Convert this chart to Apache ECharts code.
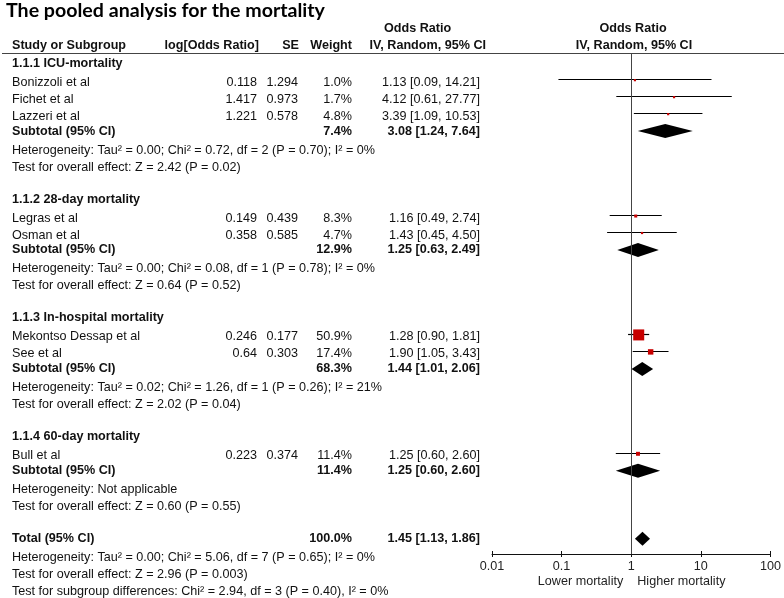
<!DOCTYPE html>
<html>
<head>
<meta charset="utf-8">
<script src="https://cdn.jsdelivr.net/npm/echarts@6/dist/echarts.min.js"></script>
<style>
html,body{margin:0;padding:0;background:#fff;}
#chart{width:784px;height:598px;}
</style>
</head>
<body>
<div id="chart"></div>
<script>
// ---------------- data ----------------
const title = 'The pooled analysis for the mortality';
const groups = ['1.1.1 ICU-mortality', '1.1.2 28-day mortality', '1.1.3 In-hospital mortality', '1.1.4 60-day mortality'];
const studies = ['Bonizzoli et al', 'Fichet et al', 'Lazzeri et al', 'Legras et al', 'Osman et al', 'Mekontso Dessap et al', 'See et al', 'Bull et al'];
const studyGroup = [0, 0, 0, 1, 1, 2, 2, 3];
const logOR = ['0.118', '1.417', '1.221', '0.149', '0.358', '0.246', '0.64', '0.223'];
const seVals = ['1.294', '0.973', '0.578', '0.439', '0.585', '0.177', '0.303', '0.374'];
const weights = [1.0, 1.7, 4.8, 8.3, 4.7, 50.9, 17.4, 11.4];
const orVals = [1.13, 4.12, 3.39, 1.16, 1.43, 1.28, 1.90, 1.25];
const loVals = [0.09, 0.61, 1.09, 0.49, 0.45, 0.90, 1.05, 0.60];
const hiVals = [14.21, 27.77, 10.53, 2.74, 4.50, 1.81, 3.43, 2.60];
const subWeight = [7.4, 12.9, 68.3, 11.4];
const subOR = [3.08, 1.25, 1.44, 1.25];
const subLo = [1.24, 0.63, 1.01, 0.60];
const subHi = [7.64, 2.49, 2.06, 2.60];
const subHet = [
  'Heterogeneity: Tau\u00b2 = 0.00; Chi\u00b2 = 0.72, df = 2 (P = 0.70); I\u00b2 = 0%',
  'Heterogeneity: Tau\u00b2 = 0.00; Chi\u00b2 = 0.08, df = 1 (P = 0.78); I\u00b2 = 0%',
  'Heterogeneity: Tau\u00b2 = 0.02; Chi\u00b2 = 1.26, df = 1 (P = 0.26); I\u00b2 = 21%',
  'Heterogeneity: Not applicable'
];
const subTest = [
  'Test for overall effect: Z = 2.42 (P = 0.02)',
  'Test for overall effect: Z = 0.64 (P = 0.52)',
  'Test for overall effect: Z = 2.02 (P = 0.04)',
  'Test for overall effect: Z = 0.60 (P = 0.55)'
];
const totalWeight = 100.0;
const totalOR = 1.45, totalLo = 1.13, totalHi = 1.86;
const totalNotes = [
  'Heterogeneity: Tau\u00b2 = 0.00; Chi\u00b2 = 5.06, df = 7 (P = 0.65); I\u00b2 = 0%',
  'Test for overall effect: Z = 2.96 (P = 0.003)',
  'Test for subgroup differences: Chi\u00b2 = 2.94, df = 3 (P = 0.40), I\u00b2 = 0%'
];
const xTicks = [0.01, 0.1, 1, 10, 100];
const favourLeft = 'Lower mortality';
const favourRight = 'Higher mortality';

// ---------------- row layout ----------------
const rows = [];
let r = 0;
groups.forEach((g, gi) => {
  rows.push({ row: r++, type: 'group', name: g });
  studies.forEach((s, si) => {
    if (studyGroup[si] === gi) rows.push({ row: r++, type: 'study', idx: si });
  });
  rows.push({ row: r++, type: 'sub', idx: gi });
  rows.push({ row: r++, type: 'note', name: subHet[gi] });
  rows.push({ row: r++, type: 'note', name: subTest[gi] });
  r++; // blank
});
rows.push({ row: r++, type: 'total' });
totalNotes.forEach(t => rows.push({ row: r++, type: 'note', name: t }));

const ciText = (o, l, h) => o.toFixed(2) + ' [' + l.toFixed(2) + ', ' + h.toFixed(2) + ']';

const studyData = rows.filter(x => x.type === 'study').map(x => [loVals[x.idx], hiVals[x.idx], orVals[x.idx], x.row, weights[x.idx]]);
const diamondData = rows.filter(x => x.type === 'sub').map(x => [subLo[x.idx], subOR[x.idx], subHi[x.idx], x.row]);
rows.filter(x => x.type === 'total').forEach(x => diamondData.push([totalLo, totalOR, totalHi, x.row]));

// ---------------- chart ----------------
const FONT = '"Liberation Sans", Arial, sans-serif';
const FS = 12.6;
const chart = echarts.init(document.getElementById('chart'), null, { renderer: 'canvas' });

const option = {
  animation: false,
  backgroundColor: '#fff',
  grid: { left: 492, right: 12, top: 53, bottom: 44 },
  xAxis: [{
    type: 'log', logBase: 10, min: 0.01, max: 100, position: 'bottom',
    axisLine: { show: true, onZero: false, lineStyle: { color: '#111', width: 1 } },
    axisTick: { show: true, inside: false, length: 3, lineStyle: { color: '#111' } },
    axisLabel: { show: true, margin: 6, color: '#222', fontFamily: FONT, fontSize: FS,
      formatter: v => { const m = xTicks.find(t => Math.abs(Math.log10(t) - Math.log10(v)) < 1e-6); return m !== undefined ? String(m) : ''; } },
    splitLine: { show: false }
  }, {
    type: 'log', logBase: 10, min: 0.01, max: 100, position: 'bottom',
    axisLine: { show: false, onZero: false },
    axisTick: { show: true, inside: true, length: 3, lineStyle: { color: '#111' } },
    axisLabel: { show: false },
    splitLine: { show: false }
  }],
  yAxis: {
    type: 'value', inverse: true, min: -0.6, max: 28.9,
    show: false, splitLine: { show: false }
  },
  series: [{
    type: 'custom',
    name: 'studies',
    clip: false,
    data: studyData,
    renderItem: (params, api) => {
      const p1 = api.coord([api.value(0), api.value(3)]);
      const p2 = api.coord([api.value(1), api.value(3)]);
      const pc = api.coord([api.value(2), api.value(3)]);
      const w = api.value(4);
      const side = Math.max(2.2, 1.88 * Math.sqrt(w) - 2.4);
      const ly = Math.round(p1[1]) - 0.5;
      return {
        type: 'group',
        children: [{
          type: 'line',
          shape: { x1: p1[0], y1: ly, x2: p2[0], y2: ly },
          style: { stroke: '#000', lineWidth: 1.2 }
        }, {
          type: 'rect',
          shape: { x: pc[0] - side / 2, y: pc[1] - side / 2, width: side, height: side },
          style: { fill: '#c80000' }
        }]
      };
    },
    markLine: {
      silent: true, symbol: 'none', label: { show: false },
      lineStyle: { color: '#444', width: 1, type: 'solid' },
      data: [{ xAxis: 1 }]
    }
  }, {
    type: 'custom',
    name: 'diamonds',
    clip: false,
    data: diamondData,
    renderItem: (params, api) => {
      const pl = api.coord([api.value(0), api.value(3)]);
      const pc = api.coord([api.value(1), api.value(3)]);
      const ph = api.coord([api.value(2), api.value(3)]);
      const h = 7;
      return {
        type: 'polygon',
        shape: { points: [[pl[0], pl[1]], [pc[0], pc[1] - h], [ph[0], ph[1]], [pc[0], pc[1] + h]] },
        style: { fill: '#000' }
      };
    }
  }]
};
chart.setOption(option);

// ---------------- table text ----------------
const yPix = v => chart.convertToPixel({ yAxisIndex: 0 }, v);
const xPix = v => chart.convertToPixel({ xAxisIndex: 0 }, v);
const g = [];
function txt(x, y, s, opts) {
  opts = opts || {};
  g.push({
    type: 'text', x: x, y: y, silent: true,
    style: {
      text: s, fill: opts.color || '#111',
      font: (opts.bold ? 'bold ' : '') + (opts.size || FS) + 'px ' + (opts.family || FONT),
      textAlign: opts.align || 'left', textVerticalAlign: 'middle'
    }
  });
}
const COL = { name: 12, log: 257, se: 298, wt: 352, ci: 480 };

// title
txt(6, 11, title, { bold: true, size: 19.6, family: 'Lato, sans-serif', color: '#000' });
// headers
txt(384, 29, 'Odds Ratio', { bold: true });
txt(12, 46, 'Study or Subgroup', { bold: true });
txt(259, 46, 'log[Odds Ratio]', { bold: true, align: 'right' });
txt(299, 46, 'SE', { bold: true, align: 'right' });
txt(352, 46, 'Weight', { bold: true, align: 'right' });
txt(486, 46, 'IV, Random, 95% CI', { bold: true, align: 'right' });
txt(633, 29, 'Odds Ratio', { bold: true, align: 'center' });
txt(634, 46, 'IV, Random, 95% CI', { bold: true, align: 'center' });
g.push({ type: 'line', silent: true, shape: { x1: 2, y1: 53.5, x2: 784, y2: 53.5 }, style: { stroke: '#444', lineWidth: 1 } });

rows.forEach(rw => {
  const y = yPix(rw.row);
  if (rw.type === 'group') {
    txt(COL.name, y, rw.name, { bold: true });
  } else if (rw.type === 'study') {
    const i = rw.idx, yy = y + 2;
    txt(COL.name, yy, studies[i]);
    txt(COL.log, yy, logOR[i], { align: 'right' });
    txt(COL.se, yy, seVals[i], { align: 'right' });
    txt(COL.wt, yy, weights[i].toFixed(1) + '%', { align: 'right' });
    txt(COL.ci, yy, ciText(orVals[i], loVals[i], hiVals[i]), { align: 'right' });
  } else if (rw.type === 'sub') {
    const i = rw.idx;
    txt(COL.name, y, 'Subtotal (95% CI)', { bold: true });
    txt(COL.wt, y, subWeight[i].toFixed(1) + '%', { bold: true, align: 'right' });
    txt(COL.ci, y, ciText(subOR[i], subLo[i], subHi[i]), { bold: true, align: 'right' });
  } else if (rw.type === 'total') {
    txt(COL.name, y, 'Total (95% CI)', { bold: true });
    txt(COL.wt, y, totalWeight.toFixed(1) + '%', { bold: true, align: 'right' });
    txt(COL.ci, y, ciText(totalOR, totalLo, totalHi), { bold: true, align: 'right' });
  } else if (rw.type === 'note') {
    txt(COL.name, y + 2, rw.name);
  }
});
const x1 = xPix(1);
txt(x1 - 8, 581.5, favourLeft, { align: 'right', color: '#222' });
txt(x1 + 6, 581.5, favourRight, { align: 'left', color: '#222' });

chart.setOption({ graphic: { elements: g } });
</script>
</body>
</html>
